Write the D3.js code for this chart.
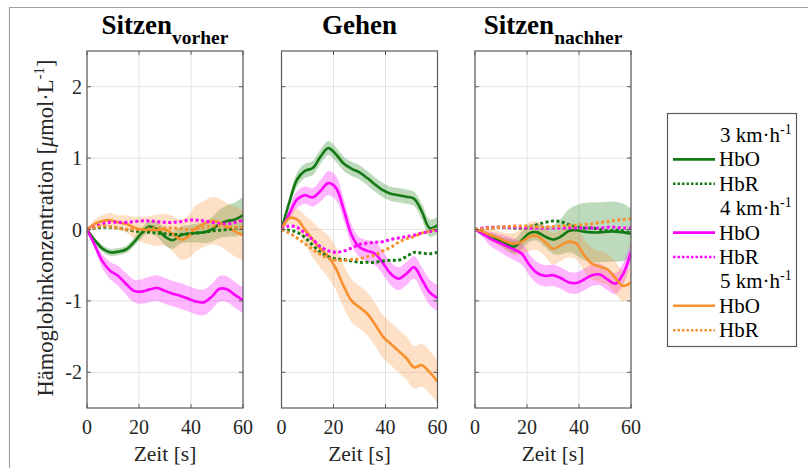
<!DOCTYPE html>
<html>
<head>
<meta charset="utf-8">
<script src="https://cdn.jsdelivr.net/npm/d3@7"></script>
<style>
  body { margin: 0; background: #fff; }
  svg text { font-family: "Liberation Serif", "Times New Roman", serif; }
</style>
</head>
<body>
<svg width="808" height="468"></svg>
<script>
// time axis in seconds
const time = [0, 3, 6, 9, 12, 15, 18, 21, 24, 27, 30, 33, 36, 39, 42, 45, 48, 51, 54, 57, 60];
const xTicks = [0, 20, 40, 60];
const yTicks = [-2, -1, 0, 1, 2];
const speeds = ['3', '4', '5'];
const speedColors = ['#137a13', '#ff00ff', '#f7902e'];

// Sitzen vorher
const vorher_hbo3 = [0, -0.15, -0.27, -0.32, -0.31, -0.28, -0.18, -0.05, 0.04, 0.0, -0.1, -0.15, -0.08, -0.06, -0.05, -0.04, 0.0, 0.08, 0.12, 0.14, 0.2];
const vorher_hbo3_sd = [0, 0.03, 0.05, 0.05, 0.05, 0.05, 0.06, 0.07, 0.08, 0.1, 0.12, 0.12, 0.12, 0.12, 0.13, 0.15, 0.17, 0.2, 0.22, 0.24, 0.26];
const vorher_hbo4 = [0, -0.22, -0.45, -0.58, -0.65, -0.76, -0.86, -0.87, -0.84, -0.82, -0.86, -0.9, -0.93, -0.97, -1.01, -1.02, -0.94, -0.83, -0.84, -0.92, -0.99];
const vorher_hbo4_sd = [0, 0.05, 0.1, 0.12, 0.14, 0.15, 0.16, 0.17, 0.18, 0.18, 0.18, 0.18, 0.18, 0.18, 0.18, 0.18, 0.18, 0.18, 0.18, 0.18, 0.18];
const vorher_hbo5 = [0, 0.08, 0.12, 0.13, 0.1, 0.08, 0.03, 0.0, -0.01, -0.01, 0.0, -0.06, -0.14, -0.1, 0.02, 0.08, 0.12, 0.1, 0.03, -0.03, -0.08];
const vorher_hbo5_sd = [0, 0.06, 0.08, 0.1, 0.1, 0.12, 0.15, 0.18, 0.2, 0.22, 0.22, 0.25, 0.28, 0.3, 0.32, 0.32, 0.33, 0.33, 0.33, 0.35, 0.35];
const vorher_hbr3 = [0, 0.02, 0.03, 0.03, 0.02, 0.0, -0.02, -0.03, -0.04, -0.05, -0.06, -0.07, -0.07, -0.06, -0.05, -0.04, -0.02, -0.01, 0.0, 0.02, 0.03];
const vorher_hbr4 = [0, 0.04, 0.08, 0.1, 0.1, 0.1, 0.11, 0.12, 0.12, 0.11, 0.1, 0.1, 0.11, 0.13, 0.13, 0.12, 0.1, 0.08, 0.08, 0.1, 0.13];
const vorher_hbr5 = [0, 0.03, 0.05, 0.04, 0.02, 0.0, 0.0, 0.0, 0.01, 0.02, 0.02, 0.02, 0.01, 0.0, 0.01, 0.03, 0.05, 0.05, 0.04, 0.03, 0.03];

// Gehen
const gehen_hbo3 = [0, 0.38, 0.7, 0.82, 0.86, 1.02, 1.14, 1.05, 0.92, 0.85, 0.8, 0.72, 0.63, 0.55, 0.5, 0.48, 0.46, 0.43, 0.25, 0.02, 0.06];
const gehen_hbo3_sd = [0, 0.07, 0.1, 0.1, 0.1, 0.1, 0.1, 0.1, 0.1, 0.1, 0.1, 0.1, 0.1, 0.1, 0.1, 0.1, 0.1, 0.1, 0.11, 0.12, 0.12];
const gehen_hbo4 = [0, 0.22, 0.42, 0.48, 0.45, 0.54, 0.65, 0.58, 0.27, -0.08, -0.25, -0.3, -0.34, -0.47, -0.62, -0.69, -0.62, -0.53, -0.7, -0.88, -0.96];
const gehen_hbo4_sd = [0, 0.08, 0.12, 0.12, 0.13, 0.15, 0.17, 0.17, 0.15, 0.14, 0.14, 0.15, 0.16, 0.16, 0.16, 0.16, 0.16, 0.16, 0.17, 0.18, 0.18];
const gehen_hbo5 = [0, 0.16, 0.14, 0.0, -0.14, -0.27, -0.38, -0.55, -0.8, -1.0, -1.09, -1.18, -1.33, -1.5, -1.6, -1.7, -1.8, -1.93, -1.9, -2.0, -2.13];
const gehen_hbo5_sd = [0, 0.08, 0.15, 0.2, 0.25, 0.27, 0.3, 0.3, 0.3, 0.3, 0.3, 0.3, 0.3, 0.3, 0.3, 0.3, 0.3, 0.3, 0.3, 0.3, 0.3];
const gehen_hbr3 = [0, -0.01, -0.04, -0.11, -0.22, -0.32, -0.38, -0.41, -0.42, -0.44, -0.46, -0.46, -0.46, -0.44, -0.43, -0.43, -0.38, -0.32, -0.33, -0.34, -0.32];
const gehen_hbr4 = [0, 0.05, 0.03, -0.05, -0.14, -0.24, -0.3, -0.32, -0.3, -0.26, -0.21, -0.19, -0.18, -0.17, -0.14, -0.12, -0.1, -0.08, -0.05, -0.03, -0.01];
const gehen_hbr5 = [0, -0.05, -0.12, -0.2, -0.28, -0.35, -0.4, -0.43, -0.43, -0.42, -0.41, -0.38, -0.36, -0.3, -0.25, -0.18, -0.13, -0.1, -0.05, -0.02, 0.01];

// Sitzen nachher
const nachher_hbo3 = [0, -0.06, -0.1, -0.15, -0.2, -0.24, -0.15, -0.05, -0.04, -0.1, -0.14, -0.1, -0.02, -0.01, -0.03, -0.04, -0.04, -0.03, -0.03, -0.04, -0.06];
const nachher_hbo3_sd = [0, 0.03, 0.05, 0.06, 0.08, 0.1, 0.12, 0.12, 0.12, 0.15, 0.2, 0.25, 0.3, 0.35, 0.4, 0.42, 0.42, 0.42, 0.42, 0.4, 0.35];
const nachher_hbo4 = [0, -0.06, -0.13, -0.18, -0.23, -0.28, -0.34, -0.5, -0.61, -0.65, -0.64, -0.68, -0.74, -0.75, -0.7, -0.64, -0.63, -0.7, -0.76, -0.62, -0.32];
const nachher_hbo4_sd = [0, 0.05, 0.1, 0.12, 0.14, 0.15, 0.15, 0.15, 0.15, 0.15, 0.15, 0.15, 0.15, 0.15, 0.15, 0.15, 0.15, 0.15, 0.15, 0.15, 0.15];
const nachher_hbo5 = [0, -0.03, -0.08, -0.12, -0.17, -0.2, -0.17, -0.1, -0.09, -0.18, -0.27, -0.22, -0.17, -0.2, -0.36, -0.48, -0.52, -0.56, -0.68, -0.79, -0.74];
const nachher_hbo5_sd = [0, 0.04, 0.08, 0.1, 0.12, 0.15, 0.18, 0.2, 0.2, 0.2, 0.22, 0.22, 0.22, 0.22, 0.22, 0.22, 0.22, 0.22, 0.22, 0.22, 0.22];
const nachher_hbr3 = [0, 0.01, 0.02, 0.03, 0.03, 0.02, 0.02, 0.03, 0.07, 0.1, 0.12, 0.11, 0.07, 0.04, 0.02, 0.02, 0.0, -0.02, -0.01, -0.02, -0.05];
const nachher_hbr4 = [0, 0.02, 0.03, 0.03, 0.03, 0.03, 0.03, 0.02, 0.02, 0.02, 0.02, 0.02, 0.02, 0.02, 0.02, 0.02, 0.02, 0.03, 0.03, 0.02, 0.02];
const nachher_hbr5 = [0, 0.01, 0.02, 0.03, 0.04, 0.05, 0.05, 0.05, 0.04, 0.04, 0.04, 0.05, 0.06, 0.06, 0.07, 0.08, 0.1, 0.11, 0.13, 0.14, 0.15];

const panels = [
  { title: 'Sitzen', sub: 'vorher',
    hbo: [vorher_hbo3, vorher_hbo4, vorher_hbo5], sd: [vorher_hbo3_sd, vorher_hbo4_sd, vorher_hbo5_sd],
    hbr: [vorher_hbr3, vorher_hbr4, vorher_hbr5] },
  { title: 'Gehen', sub: '',
    hbo: [gehen_hbo3, gehen_hbo4, gehen_hbo5], sd: [gehen_hbo3_sd, gehen_hbo4_sd, gehen_hbo5_sd],
    hbr: [gehen_hbr3, gehen_hbr4, gehen_hbr5] },
  { title: 'Sitzen', sub: 'nachher',
    hbo: [nachher_hbo3, nachher_hbo4, nachher_hbo5], sd: [nachher_hbo3_sd, nachher_hbo4_sd, nachher_hbo5_sd],
    hbr: [nachher_hbr3, nachher_hbr4, nachher_hbr5] }
];

const svg = d3.select('svg');
const panelLeft = [87, 281.5, 475];
const panelW = 156;
const plotTop = 51, plotBottom = 408;

// figure frame
svg.append('path').attr('d', 'M9.5,468 V7.5 H808')
  .attr('fill', 'none').attr('stroke', '#a0a0a0').attr('stroke-width', 1.2);

const yScale = d3.scaleLinear().domain([-2.5, 2.5]).range([plotBottom, plotTop]);

panels.forEach((p, pi) => {
  const x0 = panelLeft[pi];
  const xScale = d3.scaleLinear().domain([0, 60]).range([0, panelW]);
  const g = svg.append('g').attr('transform', `translate(${x0},0)`);

  g.append('clipPath').attr('id', 'clip' + pi)
    .append('rect').attr('x', 0).attr('y', plotTop).attr('width', panelW).attr('height', plotBottom - plotTop);

  // grid
  g.selectAll('.gx').data(xTicks).enter().append('line')
    .attr('x1', d => xScale(d)).attr('x2', d => xScale(d))
    .attr('y1', plotTop).attr('y2', plotBottom)
    .attr('stroke', '#e3e3e3').attr('stroke-width', 1);
  g.selectAll('.gy').data(yTicks).enter().append('line')
    .attr('x1', 0).attr('x2', panelW)
    .attr('y1', d => yScale(d)).attr('y2', d => yScale(d))
    .attr('stroke', '#e3e3e3').attr('stroke-width', 1);

  const plot = g.append('g').attr('clip-path', `url(#clip${pi})`);
  const area = d3.area().curve(d3.curveCatmullRom)
    .x((d, i) => xScale(time[i]))
    .y0(d => yScale(d[0] - d[1]))
    .y1(d => yScale(d[0] + d[1]));
  const line = d3.line().curve(d3.curveCatmullRom)
    .x((d, i) => xScale(time[i]))
    .y(d => yScale(d));

  p.hbo.forEach((vals, si) => {
    plot.append('path')
      .datum(vals.map((v, i) => [v, p.sd[si][i]]))
      .attr('d', area)
      .attr('fill', speedColors[si]).attr('fill-opacity', 0.28);
  });
  p.hbo.forEach((vals, si) => {
    plot.append('path').datum(vals).attr('d', line)
      .attr('fill', 'none').attr('stroke', speedColors[si]).attr('stroke-width', 2.6);
  });
  p.hbr.forEach((vals, si) => {
    plot.append('path').datum(vals).attr('d', line)
      .attr('fill', 'none').attr('stroke', speedColors[si]).attr('stroke-width', 3)
      .attr('stroke-dasharray', '3,2.5');
  });

  // box and ticks
  g.append('rect').attr('x', 0).attr('y', plotTop).attr('width', panelW).attr('height', plotBottom - plotTop)
    .attr('fill', 'none').attr('stroke', '#5a5a5a').attr('stroke-width', 1.2);
  const tl = 4;
  xTicks.forEach(t => {
    g.append('line').attr('x1', xScale(t)).attr('x2', xScale(t)).attr('y1', plotBottom).attr('y2', plotBottom - tl).attr('stroke', '#5a5a5a');
    g.append('line').attr('x1', xScale(t)).attr('x2', xScale(t)).attr('y1', plotTop).attr('y2', plotTop + tl).attr('stroke', '#5a5a5a');
  });
  yTicks.forEach(t => {
    g.append('line').attr('x1', 0).attr('x2', tl).attr('y1', yScale(t)).attr('y2', yScale(t)).attr('stroke', '#5a5a5a');
    g.append('line').attr('x1', panelW).attr('x2', panelW - tl).attr('y1', yScale(t)).attr('y2', yScale(t)).attr('stroke', '#5a5a5a');
  });

  // x tick labels
  g.selectAll('.xl').data(xTicks).enter().append('text')
    .attr('x', d => xScale(d)).attr('y', 434)
    .attr('text-anchor', 'middle').attr('font-size', 20).attr('fill', '#262626')
    .text(d => d);
  g.append('text').attr('x', panelW / 2).attr('y', 461)
    .attr('text-anchor', 'middle').attr('font-size', 21.5).attr('fill', '#262626')
    .text('Zeit [s]');

  // y tick labels only on first panel
  if (pi === 0) {
    g.selectAll('.yl').data(yTicks).enter().append('text')
      .attr('x', -5).attr('y', d => yScale(d) + 7)
      .attr('text-anchor', 'end').attr('font-size', 20).attr('fill', '#262626')
      .text(d => d < 0 ? '-' + Math.abs(d) : d);
  }

  // title
  const title = g.append('text').attr('x', panelW / 2).attr('y', 34)
    .attr('text-anchor', 'middle').attr('font-weight', 'bold').attr('fill', '#000');
  title.append('tspan').attr('font-size', 27).text(p.title);
  if (p.sub) title.append('tspan').attr('font-size', 19.5).attr('dy', 10).text(p.sub);
});

// y axis label
const ylab = svg.append('text')
  .attr('transform', 'translate(53,228) rotate(-90)')
  .attr('text-anchor', 'middle').attr('font-size', 22.5).attr('fill', '#262626');
ylab.append('tspan').text('Hämoglobinkonzentration [');
ylab.append('tspan').attr('font-style', 'italic').text('μ');
ylab.append('tspan').text('mol·L');
ylab.append('tspan').attr('font-size', 15).attr('dy', -9).text('-1');
ylab.append('tspan').attr('dy', 9).text(']');

// legend
const leg = svg.append('g');
leg.append('rect').attr('x', 667.5).attr('y', 113.5).attr('width', 129).attr('height', 233)
  .attr('fill', '#fff').attr('stroke', '#5a5a5a').attr('stroke-width', 1.2);
speeds.forEach((s, si) => {
  const base = 135 + si * 3 * 24.4;
  const head = leg.append('text').attr('x', 720).attr('y', base + 7)
    .attr('font-size', 21).attr('fill', '#000');
  head.append('tspan').text(s + ' km·h');
  head.append('tspan').attr('font-size', 14).attr('dy', -8).text('-1');
  ['HbO', 'HbR'].forEach((lab, k) => {
    const cy = base + (k + 1) * 24.4;
    leg.append('line').attr('x1', 673).attr('x2', 715).attr('y1', cy).attr('y2', cy)
      .attr('stroke', speedColors[si]).attr('stroke-width', 2.6)
      .attr('stroke-dasharray', k === 0 ? null : '2.5,2');
    leg.append('text').attr('x', 719).attr('y', cy + 7)
      .attr('font-size', 21).attr('fill', '#000').text(lab);
  });
});
</script>
</body>
</html>
